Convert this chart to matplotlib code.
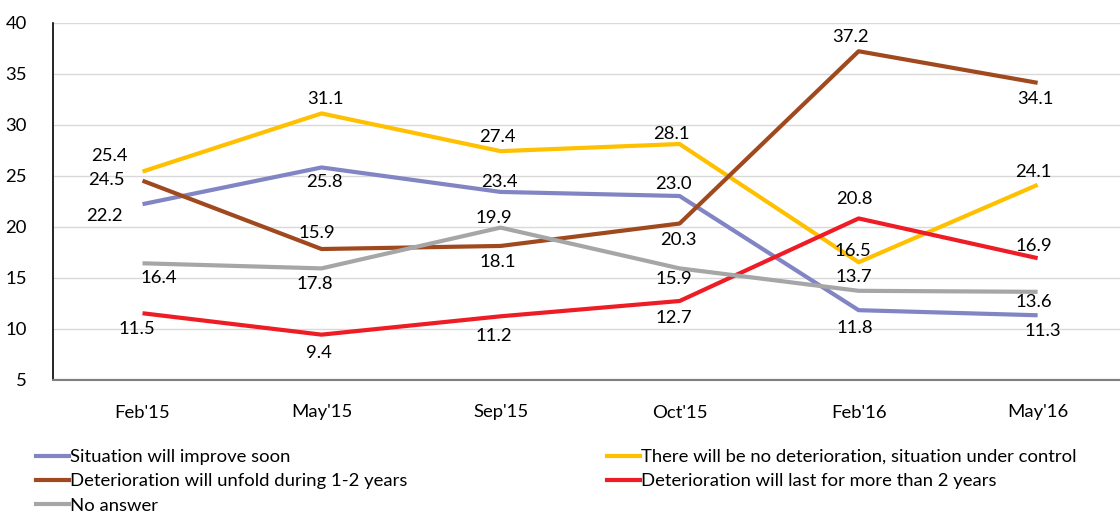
import matplotlib
matplotlib.use("Agg")
import matplotlib.pyplot as plt
from matplotlib.lines import Line2D

plt.rcParams['font.family'] = ['Lato', 'DejaVu Sans']

categories = ["Feb'15", "May'15", "Sep'15", "Oct'15", "Feb'16", "May'16"]
improve = [22.2, 25.8, 23.4, 23.0, 11.8, 11.3]
no_deterioration = [25.4, 31.1, 27.4, 28.1, 16.5, 24.1]
deter_1_2 = [24.5, 17.8, 18.1, 20.3, 37.2, 34.1]
deter_more_2 = [11.5, 9.4, 11.2, 12.7, 20.8, 16.9]
no_answer = [16.4, 15.9, 19.9, 15.9, 13.7, 13.6]

names = ["Situation will improve soon",
         "There will be no deterioration, situation under control",
         "Deterioration will unfold during 1-2 years",
         "Deterioration will last for more than 2 years",
         "No answer"]
series = [improve, no_deterioration, deter_1_2, deter_more_2, no_answer]
colors = ["#8185C4", "#FFC000", "#A0491F", "#EE1C25", "#A6A6A6"]

# label offsets in pixels (dx, dy with +dy downward on screen)
offsets = [
    [(-38, 12), (3, 15), (-1, -10), (-6, -12), (-4, 18), (5, 16)],
    [(-33, -16), (4, -14), (-3, -14), (-8, -10), (-6, -11), (-4, -13)],
    [(-36, -1), (-7, 35), (-3, 16), (-1, 16), (-8, -14), (-2, 16)],
    [(-6, 16), (-3, 18), (-7, 20), (-6, 17), (-4, -19), (-4, -12)],
    [(16, 15), (-5, -35), (-7, -10), (-6, 11), (-5, -14), (-4, 10)],
]

FS = 13.3
fig = plt.figure(figsize=(11.2, 5.15), dpi=100)
ax = fig.add_axes([53/1120, 1 - 379.5/515, 1 - 53/1120, (379.5 - 22.7)/515])

x = list(range(len(categories)))
for vals, c in zip(series, colors):
    ax.plot(x, vals, color=c, lw=3.0, solid_capstyle='butt', zorder=3)

for vals, offs in zip(series, offsets):
    for xi, v, (dx, dy) in zip(x, vals, offs):
        ax.annotate(f"{v:.1f}", (xi, v), xytext=(dx, -dy), textcoords='offset pixels',
                    ha='center', va='center', fontsize=FS, color='#000000', zorder=4)

ax.set_xlim(-0.5, 5.46)
ax.set_ylim(5, 40)
ax.set_yticks(range(5, 41, 5))
ax.set_xticks(x)
ax.set_xticklabels(categories)
ax.tick_params(axis='both', length=0, labelsize=FS, colors='#000000')
ax.tick_params(axis='x', pad=18)
ax.tick_params(axis='y', pad=19)
ax.grid(axis='y', color='#D9D9D9', lw=1)
ax.set_axisbelow(True)
for s in ['top', 'right']:
    ax.spines[s].set_visible(False)
ax.spines['left'].set_color('#000000')
ax.spines['left'].set_linewidth(1.2)
ax.spines['bottom'].set_color('#808080')
ax.spines['bottom'].set_linewidth(1.5)

def handles(idx):
    return [Line2D([0], [0], color=colors[i], lw=3) for i in idx]

left_idx = [0, 2, 4]
right_idx = [1, 3]
kw = dict(frameon=False, fontsize=FS, handlelength=1.8, handletextpad=0.05,
          labelspacing=0.45, borderaxespad=0, borderpad=0)
fig.legend(handles(left_idx), [names[i] for i in left_idx],
           loc='upper left', bbox_to_anchor=(36/1120, 1 - 449/515), **kw)
fig.legend(handles(right_idx), [names[i] for i in right_idx],
           loc='upper left', bbox_to_anchor=(607/1120, 1 - 449/515), **kw)

fig.savefig("out.png", dpi=100)
